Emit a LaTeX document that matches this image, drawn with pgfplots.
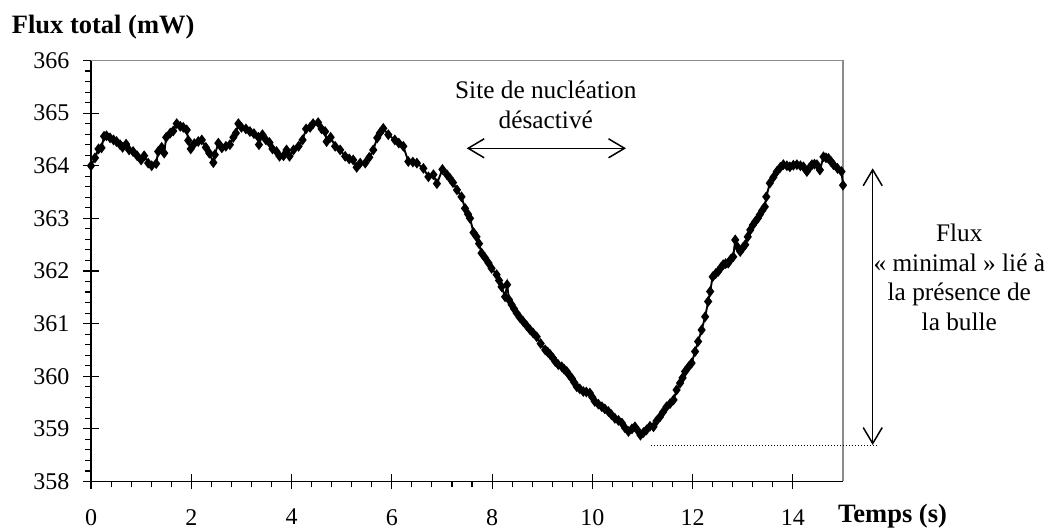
\documentclass[border=0pt]{standalone}
\usepackage{fontspec}
\setmainfont{Liberation Serif}
\usepackage{pgfplots}
\pgfplotsset{compat=1.18}
\usetikzlibrary{arrows.meta}
\pgfplotstableread{
x y
0.00 364.00
0.08 364.15
0.15 364.32
0.21 364.34
0.26 364.56
0.31 364.57
0.38 364.53
0.45 364.49
0.51 364.46
0.58 364.40
0.63 364.35
0.70 364.41
0.76 364.30
0.84 364.27
0.92 364.19
1.00 364.11
1.06 364.19
1.14 364.05
1.21 364.00
1.30 364.04
1.34 364.27
1.41 364.35
1.46 364.24
1.50 364.54
1.58 364.62
1.64 364.66
1.71 364.80
1.78 364.75
1.84 364.73
1.91 364.68
1.94 364.48
1.99 364.32
2.06 364.42
2.14 364.46
2.21 364.49
2.29 364.35
2.36 364.24
2.44 364.06
2.47 364.21
2.54 364.43
2.61 364.34
2.69 364.37
2.77 364.40
2.84 364.54
2.89 364.62
2.94 364.80
3.00 364.73
3.09 364.70
3.17 364.65
3.25 364.61
3.34 364.54
3.35 364.40
3.42 364.59
3.49 364.49
3.56 364.44
3.62 364.32
3.70 364.27
3.76 364.18
3.84 364.19
3.90 364.30
3.96 364.18
4.04 364.30
4.14 364.37
4.22 364.49
4.29 364.70
4.37 364.73
4.43 364.80
4.53 364.82
4.60 364.70
4.67 364.65
4.70 364.46
4.78 364.54
4.87 364.37
4.97 364.30
5.07 364.18
5.15 364.13
5.23 364.11
5.30 363.97
5.37 364.05
5.47 364.05
5.55 364.16
5.63 364.30
5.71 364.53
5.76 364.62
5.83 364.71
5.93 364.59
6.06 364.49
6.14 364.43
6.23 364.37
6.33 364.08
6.42 364.07
6.50 364.05
6.63 363.95
6.73 363.79
6.83 363.83
6.90 363.66
7.01 363.93
7.10 363.83
7.16 363.76
7.22 363.68
7.30 363.54
7.39 363.41
7.46 363.19
7.52 363.08
7.56 363.00
7.63 362.73
7.69 362.65
7.74 362.52
7.79 362.34
7.86 362.25
7.93 362.15
7.99 362.05
8.09 361.93
8.14 361.82
8.19 361.70
8.26 361.51
8.30 361.74
8.34 361.45
8.39 361.36
8.44 361.28
8.49 361.20
8.55 361.12
8.62 361.04
8.69 360.96
8.76 360.88
8.82 360.82
8.89 360.75
8.97 360.62
9.06 360.50
9.11 360.46
9.16 360.41
9.21 360.35
9.26 360.28
9.32 360.22
9.39 360.18
9.44 360.13
9.49 360.09
9.54 360.02
9.59 359.96
9.64 359.88
9.69 359.80
9.75 359.76
9.82 359.71
9.88 359.70
9.95 359.68
10.00 359.60
10.05 359.52
10.12 359.47
10.19 359.42
10.25 359.38
10.32 359.33
10.38 359.27
10.45 359.20
10.52 359.16
10.59 359.11
10.65 359.02
10.72 358.95
10.79 359.00
10.85 359.04
10.92 358.95
10.96 358.88
11.02 358.93
11.08 358.98
11.15 359.05
11.22 359.04
11.28 359.15
11.35 359.23
11.41 359.32
11.48 359.42
11.55 359.48
11.62 359.55
11.68 359.74
11.75 359.87
11.80 359.97
11.85 360.09
11.92 360.18
11.98 360.25
12.05 360.47
12.11 360.66
12.18 360.88
12.25 361.13
12.31 361.42
12.35 361.61
12.40 361.89
12.46 361.95
12.51 361.99
12.56 362.06
12.61 362.12
12.66 362.14
12.71 362.15
12.76 362.22
12.81 362.27
12.85 362.59
12.90 362.45
12.95 362.37
13.00 362.44
13.05 362.50
13.10 362.65
13.15 362.78
13.20 362.87
13.25 362.94
13.30 363.00
13.34 363.07
13.39 363.15
13.44 363.22
13.47 363.41
13.54 363.67
13.61 363.78
13.68 363.89
13.75 363.97
13.81 364.02
13.88 364.00
13.94 363.98
14.01 364.01
14.08 364.02
14.15 364.00
14.21 363.98
14.28 363.89
14.33 363.96
14.38 364.02
14.43 364.03
14.48 364.02
14.54 363.92
14.61 364.17
14.66 364.15
14.71 364.14
14.76 364.08
14.81 364.02
14.89 363.95
14.97 363.89
15.00 363.63
}\fluxdata
\begin{document}
\begin{tikzpicture}[x=1bp,y=1bp]
\path[use as bounding box] (0,0) rectangle (1048,530);
\begin{axis}[
  at={(91bp,48.5bp)}, anchor=south west,
  scale only axis, width=752bp, height=421bp,
  xmin=0, xmax=15, ymin=358, ymax=366,
  axis x line*=bottom, axis y line*=left,
  axis line style={black, line width=1.3bp},
  xtick={0,2,...,14}, ytick={358,359,...,366},
  minor x tick num=4, minor y tick num=4,
  tick align=center,
  major tick length=15bp, minor tick length=6bp,
  every tick/.style={black, line width=1.1bp},
  minor x tick style={yshift=-3bp},
  minor y tick style={xshift=-3bp},
  /pgf/number format/assume math mode=true,
  tick label style={font=\fontsize{24bp}{28bp}\selectfont},
  yticklabel style={anchor=east, inner sep=0pt, xshift=-14bp},
  xticklabel style={anchor=north, inner sep=0pt, yshift=-20bp},
  clip=false,
]
\draw[black!45, line width=1.6bp] (axis cs:0,366) -- (axis cs:15,366) -- (axis cs:15,358);
\addplot[black, line width=1.9bp, mark=diamond*, mark size=3.9bp, mark options={solid}] table[x=x,y=y] {\fluxdata};
\end{axis}
\node[anchor=base west, inner sep=0pt, font=\fontsize{26.5bp}{31bp}\selectfont\bfseries] at (11.7,496.7) {Flux total (mW)};
\node[anchor=base west, inner sep=0pt, font=\fontsize{26.5bp}{31bp}\selectfont\bfseries] at (838,7) {Temps (s)};
\begin{scope}[every node/.style={anchor=base, inner sep=0pt, font=\fontsize{25.3bp}{29bp}\selectfont}]
\node at (545.8,431) {Site de nucléation};
\node at (545.8,401.7) {désactivé};
\node at (959.3,288.3) {Flux};
\node at (959.3,258.7) {« minimal » lié à};
\node at (959.3,229.1) {la présence de};
\node at (959.3,199.5) {la bulle};
\end{scope}
\draw[line width=1.5bp, {Straight Barb[length=16bp,width=19bp]}-{Straight Barb[length=16bp,width=19bp]}] (466.7,381.7) -- (626,381.7);
\draw[line width=1.5bp, {Straight Barb[length=16bp,width=19bp]}-{Straight Barb[length=16bp,width=19bp]}] (872.7,361.7) -- (872.7,85);
\draw[line width=0.9bp, dash pattern=on 1bp off 2bp] (651,85) -- (876.7,85);
\end{tikzpicture}
\end{document}
